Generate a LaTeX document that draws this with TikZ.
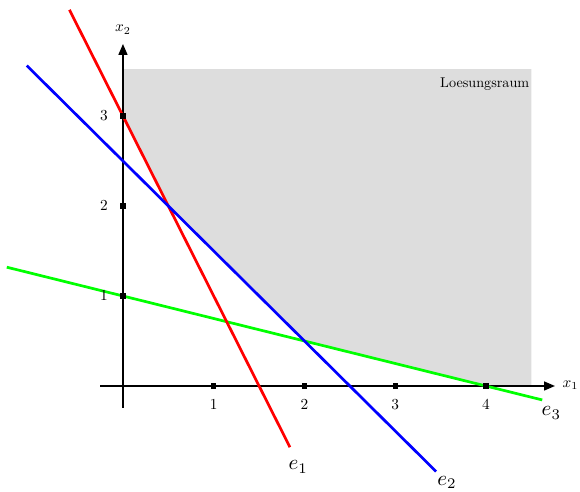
\documentclass[tikz,border=0pt]{standalone}
\usetikzlibrary{arrows.meta}
\definecolor{regiongray}{HTML}{DDDDDD}
\tikzset{
  axis/.style={line width=0.45pt,-{Triangle[length=3.4pt,width=2.8pt]}},
  eline/.style={line width=0.85pt},
  tickmark/.style={fill=black,minimum size=1.6pt,inner sep=0pt,outer sep=0pt,draw=none,rectangle},
  ticklabel/.style={font=\normalsize,scale=0.48,inner sep=0pt},
  regionlabel/.style={font=\normalsize,scale=0.445,inner sep=0pt},
  elabel/.style={font=\normalsize,scale=0.66,inner sep=0pt},
}
\begin{document}
\begin{tikzpicture}[x=1cm,y=0.9917cm]
\useasboundingbox (-1.355,-1.167) rectangle (5.036,4.289);
% feasible region
\fill[regiongray] (0,3.52) -- (4.5,3.52) -- (4.5,0) -- (4,0) -- (2,0.5) -- (0.5,2) -- (0,3) -- cycle;
% axes
\coordinate (xs) at (-0.25,0);
\coordinate (xe) at (4.76,0);
\coordinate (ys) at (0,-0.24);
\coordinate (ye) at (0,3.8);
\draw[axis] (xs) -- (xe);
\draw[axis] (ys) -- (ye);
\node[ticklabel] (xl) at (4.93,0.01) {$x_1$};
\node[ticklabel] (yl) at (0,3.96) {$x_2$};
% lines
\coordinate (r1) at (-0.59,4.18);
\coordinate (r2) at (1.84,-0.68);
\coordinate (b1) at (-1.06,3.56);
\coordinate (b2) at (3.45,-0.95);
\coordinate (g1) at (-1.28,1.32);
\coordinate (g2) at (4.62,-0.155);
\draw[eline,green] (g1) -- (g2);
\draw[eline,red] (r1) -- (r2);
\draw[eline,blue] (b1) -- (b2);
% ticks
\foreach \i in {1,2,3,4} {
  \node[tickmark] (tx\i) at (\i,0) {};
  \node[ticklabel] (lx\i) at (\i,-0.21) {$\i$};
}
\foreach \i in {1,2,3} {
  \node[tickmark] (ty\i) at (0,\i) {};
  \node[ticklabel] (ly\i) at (-0.21,\i) {$\i$};
}
% labels
\node[regionlabel,anchor=east] (lr) at (4.48,3.35) {Loesungsraum};
\node[elabel] (e1) at (1.93,-0.9) {$e_1$};
\node[elabel] (e2) at (3.57,-1.07) {$e_2$};
\node[elabel] (e3) at (4.72,-0.3) {$e_3$};
\end{tikzpicture}
\end{document}
